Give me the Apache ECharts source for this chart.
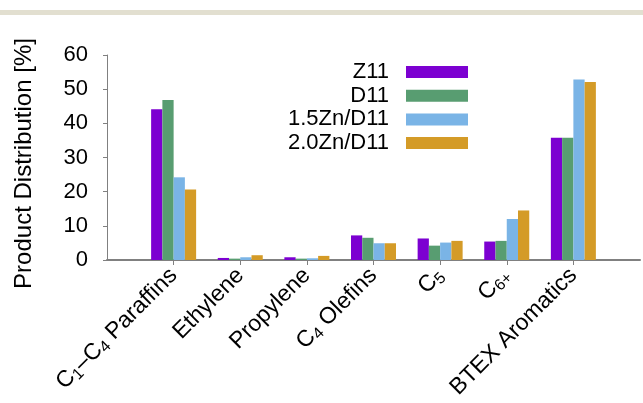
<!DOCTYPE html>
<html>
<head>
<meta charset="utf-8">
<style>
  html, body { margin: 0; padding: 0; background: #fff; }
  #main { width: 643px; height: 403px; }
</style>
<script src="https://cdn.jsdelivr.net/npm/echarts@6/dist/echarts.min.js"></script>
</head>
<body>
<div id="main"></div>
<script>
// product groups (the x axis)
const categories = ['C1-C4 Paraffins', 'Ethylene', 'Propylene', 'C4 Olefins', 'C5', 'C6+', 'BTEX Aromatics'];
// same groups, written with subscripts for the tick labels
const tickLabels = [
  '{n|C}{s|1}{n|–C}{s|4}{n| Paraffins}',
  '{n|Ethylene}',
  '{n|Propylene}',
  '{n|C}{s|4}{n| Olefins}',
  '{n|C}{s|5}',
  '{n|C}{s|6+}',
  '{n|BTEX Aromatics}'
];
const seriesNames = ['Z11', 'D11', '1.5Zn/D11', '2.0Zn/D11'];
const z11 = [44.1, 0.6, 0.8, 7.2, 6.3, 5.4, 35.8];
const d11 = [46.8, 0.4, 0.4, 6.5, 4.2, 5.6, 35.8];
const zn15 = [24.2, 0.8, 0.5, 4.9, 5.1, 12.0, 52.8];
const zn20 = [20.6, 1.4, 1.2, 4.9, 5.6, 14.5, 52.1];
const yTicks = [0, 10, 20, 30, 40, 50, 60];

const colors = ['#7c00d1', '#589d71', '#7ab4e6', '#d49b27'];
const font = 'Liberation Sans, Arial, sans-serif';

// empty slot at each end so the groups sit away from the y axis
const cats = [''].concat(categories, ['']);
const labels = [''].concat(tickLabels, ['']);
const pad = arr => ['-'].concat(arr, ['-']);
const values = [z11, d11, zn15, zn20];

const chart = echarts.init(document.getElementById('main'));

const legends = seriesNames.map((name, i) => ({
  data: [name],
  orient: 'vertical',
  right: 175,
  top: 61 + i * 23.7,
  padding: 0,
  align: 'right',
  icon: 'rect',
  itemWidth: 62,
  itemHeight: 12,
  selectedMode: false,
  textStyle: { fontSize: 22, color: '#000', fontFamily: font, padding: [0, 12, 0, 0] }
}));

const option = {
  animation: false,
  color: colors,
  graphic: [{
    type: 'rect',
    shape: { x: 0, y: 10, width: 643, height: 5 },
    style: { fill: '#e2dfd0' }
  }],
  legend: legends,
  grid: { left: 107, right: 3, top: 55, bottom: 143, containLabel: false },
  xAxis: {
    type: 'category',
    data: cats,
    boundaryGap: false,
    axisLine: { lineStyle: { color: '#808080', width: 2 } },
    axisTick: {
      length: 5,
      lineStyle: { color: '#808080', width: 1 },
      interval: (idx) => idx > 0 && idx < cats.length - 1
    },
    axisLabel: {
      interval: 0,
      rotate: 45,
      margin: 12,
      formatter: (v, idx) => labels[idx],
      rich: {
        n: { fontSize: 23, color: '#000', fontFamily: font },
        s: { fontSize: 16, color: '#000', fontFamily: font, padding: [10, 0, 0, 0] }
      }
    },
    splitLine: { show: false }
  },
  yAxis: {
    type: 'value',
    min: yTicks[0],
    max: yTicks[yTicks.length - 1],
    interval: 10,
    name: 'Product Distribution [%]',
    nameLocation: 'middle',
    nameGap: 71,
    nameTextStyle: { fontSize: 24, color: '#000', fontFamily: font, padding: [0, 12, 0, 0] },
    axisLine: { show: true, lineStyle: { color: '#808080', width: 1 } },
    axisTick: { show: true, length: 4, lineStyle: { color: '#808080' } },
    axisLabel: { fontSize: 22, color: '#000', fontFamily: font, margin: 19 },
    splitLine: { show: false }
  },
  series: seriesNames.map((name, i) => ({
    name: name,
    type: 'bar',
    data: pad(values[i]),
    barWidth: 11.25,
    barGap: '0%',
    itemStyle: { color: colors[i] }
  }))
};

chart.setOption(option);
</script>
</body>
</html>
